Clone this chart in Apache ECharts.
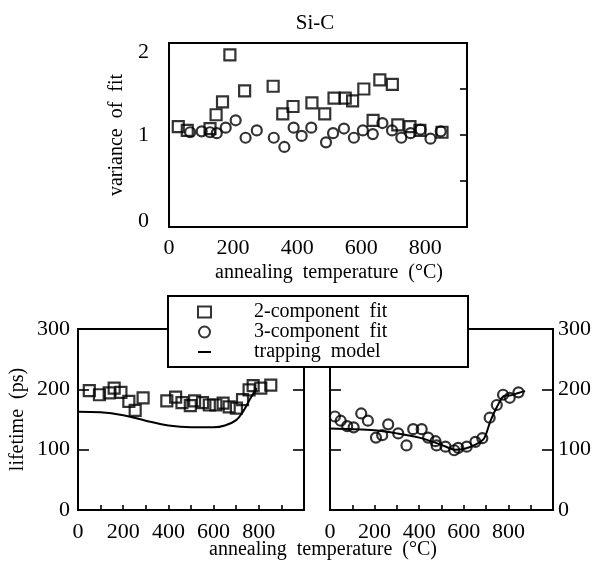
<!DOCTYPE html>
<html>
<head>
<meta charset="utf-8">
<script src="https://cdn.jsdelivr.net/npm/echarts@6/dist/echarts.min.js"></script>
<style>
html,body{margin:0;padding:0;background:#fff;}
#c{width:594px;height:567px;}
</style>
</head>
<body>
<div id="c"></div>
<script>
// ---- data ----
// top panel: variance of fit vs annealing temperature
const var2T = [29, 57, 128, 147, 167, 190, 236, 325, 355, 387, 446, 486, 515, 550, 573, 608, 637, 658, 697, 714, 752, 783, 852];
const var2V = [1.09, 1.05, 1.07, 1.22, 1.36, 1.87, 1.48, 1.53, 1.23, 1.31, 1.35, 1.23, 1.40, 1.40, 1.37, 1.50, 1.16, 1.60, 1.55, 1.11, 1.09, 1.05, 1.03];
const var3T = [66, 102, 128, 149, 177, 208, 239, 274, 327, 360, 389, 414, 444, 490, 512, 546, 577, 605, 636, 666, 696, 725, 754, 785, 816, 848];
const var3V = [1.03, 1.04, 1.03, 1.02, 1.08, 1.16, 0.97, 1.05, 0.97, 0.87, 1.08, 0.99, 1.08, 0.92, 1.02, 1.07, 0.97, 1.05, 1.01, 1.13, 1.05, 0.97, 1.02, 1.06, 0.96, 1.04];
// bottom-left: lifetime, 2-component fit
const life2T = [50, 95, 138, 160, 190, 225, 253, 288, 393, 432, 460, 497, 516, 551, 581, 610, 642, 669, 701, 728, 757, 775, 809, 853];
const life2V = [198, 191, 194, 202, 195, 180, 165, 186, 181, 187, 178, 173, 181, 178, 174, 174, 177, 171, 169, 183, 199, 206, 202, 207];
const model2T = [0, 100, 200, 300, 400, 500, 600, 650, 700, 730, 760, 790];
const model2V = [163, 162, 157, 148, 140, 137, 137, 140, 149, 163, 183, 202];
// bottom-right: lifetime, 3-component fit
const life3T = [22, 48, 77, 106, 140, 170, 206, 234, 261, 306, 343, 373, 411, 440, 473, 478, 518, 557, 575, 613, 652, 683, 716, 748, 776, 806, 845];
const life3V = [155, 148, 139, 137, 160, 148, 120, 124, 142, 127, 107, 134, 134, 120, 114, 107, 105, 99, 103, 105, 113, 119, 153, 174, 191, 186, 195];
const model3T = [0, 100, 200, 300, 400, 500, 560, 600, 650, 690, 720, 750, 780, 810, 845, 875];
const model3V = [135, 134, 132, 127, 120, 108, 100, 101, 108, 118, 148, 172, 189, 190, 194, 197];
// tick labels
const topXTicks = [0, 200, 400, 600, 800];
const botXTicks = [0, 200, 400, 600, 800];
const names = ['2-component  fit', '3-component  fit', 'trapping  model'];

const zip = (a, b) => a.map((v, i) => [v, b[i]]);
const FONT = 'Liberation Serif';
const txt = {color: '#000', fontFamily: FONT, fontSize: 22};

const chart = echarts.init(document.getElementById('c'), null, {renderer: 'canvas'});
const hollow = {color: 'rgba(255,255,255,0)', borderColor: '#000', borderWidth: 2.2};
const tickStyle = {color: '#000', width: 1.6};

const xFmt = list => v => list.indexOf(v) >= 0 ? String(v) : '';
const varFmt = v => v === 2 ? '{hi|2}' : (v === 0 ? '{lo|0}' : '{n|' + v + '}');
const richBase = {color: '#000', fontFamily: FONT, fontSize: 22};

chart.setOption({
  backgroundColor: '#fff',
  animation: false,
  title: [
    {text: 'Si-C', left: 310, top: 8, textAlign: 'center', textStyle: Object.assign({}, txt, {fontWeight: 'normal', fontSize: 21})},
    {text: 'annealing  temperature  (°C)', left: 318, top: 535, textAlign: 'center', textStyle: Object.assign({}, txt, {fontWeight: 'normal', fontSize: 20})}
  ],
  legend: {
    orient: 'vertical', left: 168, top: 296,
    padding: [6, 0, 5, 29],
    itemGap: 0, itemWidth: 13, itemHeight: 11,
    backgroundColor: '#fff', borderColor: '#000', borderWidth: 2,
    textStyle: {color: '#000', fontFamily: FONT, fontSize: 20, lineHeight: 20, width: 214, padding: [0, 0, 0, 38]},
    data: [
      {name: names[0], icon: 'rect'},
      {name: names[1], icon: 'circle'},
      {name: names[2], itemStyle: {opacity: 0}}
    ],
    selectedMode: false, z: 10
  },
  grid: [
    {left: 169, top: 43, width: 298, height: 184, show: true, borderColor: '#000', borderWidth: 2, containLabel: false},
    {left: 78, top: 329, width: 226, height: 181, show: true, borderColor: '#000', borderWidth: 2, containLabel: false},
    {left: 330, top: 329, width: 223, height: 181, show: true, borderColor: '#000', borderWidth: 2, containLabel: false}
  ],
  xAxis: [
    {gridIndex: 0, type: 'value', min: 0, max: 930, interval: 200,
     axisLine: {show: false}, axisTick: {show: false}, splitLine: {show: false},
     axisLabel: Object.assign({}, txt, {margin: 10, showMaxLabel: false, formatter: xFmt(topXTicks)}),
     name: 'annealing  temperature  (°C)', nameLocation: 'middle', nameGap: 36,
     nameTextStyle: Object.assign({}, txt, {fontSize: 20, padding: [0, 0, 0, 22]})},
    {gridIndex: 1, type: 'value', min: 0, max: 1000, interval: 100,
     axisLine: {show: false}, axisTick: {show: true, inside: true, length: 5, lineStyle: tickStyle}, splitLine: {show: false},
     axisLabel: Object.assign({}, txt, {margin: 11, showMaxLabel: false, formatter: xFmt(botXTicks)})},
    {gridIndex: 2, type: 'value', min: 0, max: 1000, interval: 100,
     axisLine: {show: false}, axisTick: {show: true, inside: true, length: 5, lineStyle: tickStyle}, splitLine: {show: false},
     axisLabel: Object.assign({}, txt, {margin: 11, showMaxLabel: false, formatter: xFmt(botXTicks)})}
  ],
  yAxis: [
    {gridIndex: 0, type: 'value', min: 0, max: 2, interval: 1, position: 'left',
     axisLine: {show: false}, axisTick: {show: false}, splitLine: {show: false},
     axisLabel: Object.assign({}, txt, {margin: 20, formatter: varFmt,
       rich: {hi: Object.assign({}, richBase, {padding: [18, 0, 0, 0]}),
              lo: Object.assign({}, richBase, {padding: [0, 0, 12, 0]}),
              n: Object.assign({}, richBase)}}),
     name: 'variance  of  fit', nameLocation: 'middle', nameGap: 40,
     nameTextStyle: Object.assign({}, txt, {fontSize: 20})},
    {gridIndex: 0, type: 'value', min: 0, max: 2, interval: 0.5, position: 'right',
     axisLine: {show: false}, axisTick: {show: true, inside: true, length: 7, lineStyle: tickStyle},
     splitLine: {show: false}, axisLabel: {show: false}},
    {gridIndex: 1, type: 'value', min: 0, max: 300, interval: 100, position: 'left',
     axisLine: {show: false}, axisTick: {show: true, inside: true, length: 11, lineStyle: tickStyle}, splitLine: {show: false},
     axisLabel: Object.assign({}, txt, {margin: 8}),
     name: 'lifetime  (ps)', nameLocation: 'middle', nameGap: 50,
     nameTextStyle: Object.assign({}, txt, {fontSize: 20})},
    {gridIndex: 1, type: 'value', min: 0, max: 300, interval: 100, position: 'right',
     axisLine: {show: false}, axisTick: {show: true, inside: true, length: 11, lineStyle: tickStyle},
     splitLine: {show: false}, axisLabel: {show: false}},
    {gridIndex: 2, type: 'value', min: 0, max: 300, interval: 100, position: 'left',
     axisLine: {show: false}, axisTick: {show: true, inside: true, length: 11, lineStyle: tickStyle},
     splitLine: {show: false}, axisLabel: {show: false}},
    {gridIndex: 2, type: 'value', min: 0, max: 300, interval: 100, position: 'right',
     axisLine: {show: false}, axisTick: {show: true, inside: true, length: 11, lineStyle: tickStyle}, splitLine: {show: false},
     axisLabel: Object.assign({}, txt, {margin: 5})}
  ],
  series: [
    {name: names[0], type: 'scatter', xAxisIndex: 0, yAxisIndex: 0, symbol: 'rect', symbolSize: 11,
     itemStyle: hollow, data: zip(var2T, var2V), z: 3},
    {name: names[1], type: 'scatter', xAxisIndex: 0, yAxisIndex: 0, symbol: 'circle', symbolSize: 10,
     itemStyle: hollow, data: zip(var3T, var3V), z: 3},
    {name: names[0], type: 'scatter', xAxisIndex: 1, yAxisIndex: 2, symbol: 'rect', symbolSize: 11,
     itemStyle: hollow, data: zip(life2T, life2V), z: 3},
    {name: names[2], type: 'line', xAxisIndex: 1, yAxisIndex: 2, symbol: 'none', showSymbol: false, smooth: 0.4,
     lineStyle: {color: '#000', width: 2}, itemStyle: {color: '#000'}, data: zip(model2T, model2V), z: 2},
    {name: names[1], type: 'scatter', xAxisIndex: 2, yAxisIndex: 4, symbol: 'circle', symbolSize: 10,
     itemStyle: hollow, data: zip(life3T, life3V), z: 3},
    {name: names[2], type: 'line', xAxisIndex: 2, yAxisIndex: 4, symbol: 'none', showSymbol: false, smooth: 0.3,
     lineStyle: {color: '#000', width: 2}, itemStyle: {color: '#000'}, data: zip(model3T, model3V), z: 2}
  ]
});
</script>
</body>
</html>
